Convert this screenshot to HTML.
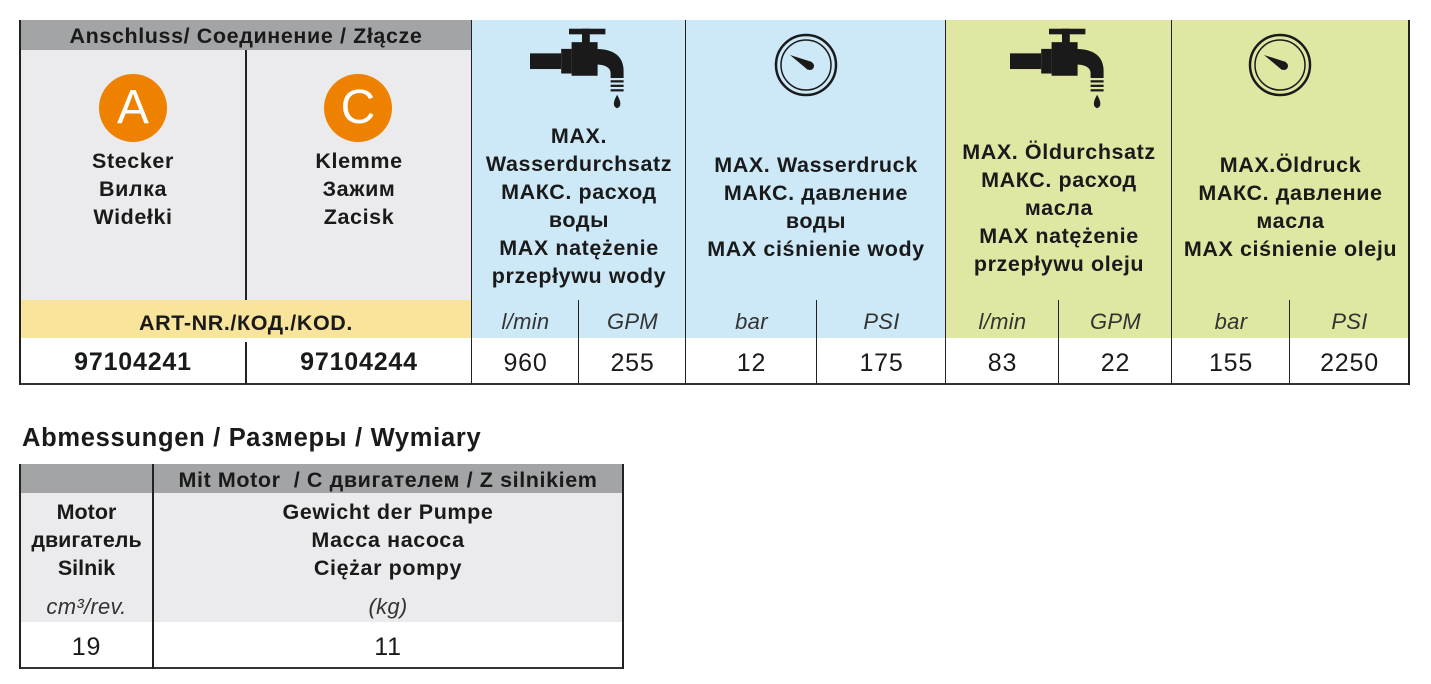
<!DOCTYPE html>
<html><head><meta charset="utf-8"><style>
body{margin:0;width:1431px;height:684px;background:#fff;position:relative;font-family:"Liberation Sans",sans-serif;color:#1a1a1a;overflow:hidden}
.a{position:absolute;box-sizing:border-box}
.t{position:absolute;text-align:center;font-weight:bold;font-size:21.5px;line-height:28px;letter-spacing:0.6px;white-space:nowrap}
.i{position:absolute;text-align:center;font-style:italic;font-size:22px;color:#333;letter-spacing:0.3px}
.n{position:absolute;text-align:center;font-size:25px;letter-spacing:0.8px}
.vl{position:absolute;width:2px;background:#222}
</style></head><body>
<div class="a" style="left:20px;top:20px;width:452px;height:30px;background:#a3a4a6"></div>
<div class="a" style="left:20px;top:50px;width:452px;height:250px;background:#ebebed"></div>
<div class="a" style="left:20px;top:300px;width:452px;height:38px;background:#f8e49b"></div>
<div class="a" style="left:472px;top:20px;width:474px;height:318px;background:#cde9f8"></div>
<div class="a" style="left:946px;top:20px;width:463px;height:318px;background:#e0e7a3"></div>
<div class="a" style="left:20px;top:383px;width:1389px;height:2px;background:#333"></div>
<div class="vl" style="left:19px;top:20px;height:365px"></div>
<div class="vl" style="left:1408px;top:20px;height:365px"></div>
<div class="vl" style="left:245px;top:50px;height:250px"></div>
<div class="vl" style="left:245px;top:342px;height:42px"></div>
<div class="vl" style="left:471px;top:20px;height:365px;width:1px"></div>
<div class="vl" style="left:685px;top:20px;height:365px;width:1px"></div>
<div class="vl" style="left:945px;top:20px;height:365px;width:1px"></div>
<div class="vl" style="left:1171px;top:20px;height:365px;width:1px"></div>
<div class="vl" style="left:578px;top:300px;height:84px;width:1px"></div>
<div class="vl" style="left:816px;top:300px;height:84px;width:1px"></div>
<div class="vl" style="left:1058px;top:300px;height:84px;width:1px"></div>
<div class="vl" style="left:1289px;top:300px;height:84px;width:1px"></div>

<div class="t" style="left:20px;top:22px;width:452px">Anschluss/ Соединение / Złącze</div>
<div class="a" style="left:99px;top:74px;width:68px;height:68px;border-radius:50%;background:#ee8200;color:#fff;font-size:48px;text-align:center;line-height:68px">A</div>
<div class="a" style="left:324px;top:74px;width:68px;height:68px;border-radius:50%;background:#ee8200;color:#fff;font-size:48px;text-align:center;line-height:68px">C</div>
<div class="t" style="left:20px;top:147px;width:226px">Stecker<br>Вилка<br>Widełki</div>
<div class="t" style="left:246px;top:147px;width:226px">Klemme<br>Зажим<br>Zacisk</div>
<div class="t" style="left:20px;top:309px;width:452px">ART-NR./КОД./KOD.</div>
<div class="n" style="left:20px;top:348px;width:226px;font-weight:bold">97104241</div>
<div class="n" style="left:246px;top:348px;width:226px;font-weight:bold">97104244</div>

<svg class="a" style="left:0;top:0" width="1431" height="120">
<defs><g id="tap"><rect x="0" y="28" width="24" height="14" fill="#1a1a1a"/><rect x="24" y="24" width="8" height="22" fill="#1a1a1a"/><rect x="32" y="18" width="20" height="30" fill="#1a1a1a"/><rect x="30" y="6" width="28" height="5" fill="#1a1a1a"/><rect x="40" y="6" width="6" height="14" fill="#1a1a1a"/><path d="M50 24 Q72 24 72 44 L72 50 L62 50 L62 46 Q62 38 50 38Z" fill="#1a1a1a"/><g fill="#1a1a1a"><rect x="62" y="52" width="10" height="2"/><rect x="62" y="56" width="10" height="2"/><rect x="62" y="60" width="10" height="2"/></g><path d="M67 65 Q62 75 67 77 Q72 75 67 65Z" fill="#1a1a1a"/></g>
<g id="g"><circle r="30" fill="none" stroke="#1a1a1a" stroke-width="2.5"/><circle r="25" fill="none" stroke="#1a1a1a" stroke-width="1.5"/><path d="M-16 -10 L6 -3 L2 5Z" fill="#1a1a1a"/><circle cx="4" cy="1" r="4" fill="#1a1a1a"/></g></defs>
<use href="#tap" transform="translate(530,22) scale(1.3,1.12)"/>
<use href="#tap" transform="translate(1010,22) scale(1.3,1.12)"/>
<use href="#g" x="806" y="65"/>
<use href="#g" x="1280" y="65"/>
</svg>
<div class="t" style="left:472px;top:122px;width:214px">MAX.<br>Wasserdurchsatz<br>МАКС. расход<br>воды<br>MAX natężenie<br>przepływu wody</div>
<div class="t" style="left:686px;top:151px;width:260px">MAX. Wasserdruck<br>МАКС. давление<br>воды<br>MAX ciśnienie wody</div>
<div class="t" style="left:946px;top:138px;width:226px">MAX. Öldurchsatz<br>МАКС. расход<br>масла<br>MAX natężenie<br>przepływu oleju</div>
<div class="t" style="left:1172px;top:151px;width:237px">MAX.Öldruck<br>МАКС. давление<br>масла<br>MAX ciśnienie oleju</div>
<div class="i" style="left:472px;top:309px;width:107px">l/min</div>
<div class="i" style="left:579px;top:309px;width:107px">GPM</div>
<div class="i" style="left:686px;top:309px;width:131px">bar</div>
<div class="i" style="left:817px;top:309px;width:129px">PSI</div>
<div class="i" style="left:946px;top:309px;width:113px">l/min</div>
<div class="i" style="left:1059px;top:309px;width:113px">GPM</div>
<div class="i" style="left:1172px;top:309px;width:118px">bar</div>
<div class="i" style="left:1290px;top:309px;width:119px">PSI</div>
<div class="n" style="left:472px;top:349px;width:107px">960</div>
<div class="n" style="left:579px;top:349px;width:107px">255</div>
<div class="n" style="left:686px;top:349px;width:131px">12</div>
<div class="n" style="left:817px;top:349px;width:129px">175</div>
<div class="n" style="left:946px;top:349px;width:113px">83</div>
<div class="n" style="left:1059px;top:349px;width:113px">22</div>
<div class="n" style="left:1172px;top:349px;width:118px">155</div>
<div class="n" style="left:1290px;top:349px;width:119px">2250</div>

<div class="a" style="left:22px;top:424px;font-weight:bold;font-size:25.5px;letter-spacing:0.7px;white-space:nowrap">Abmessungen / Размеры / Wymiary</div>
<div class="a" style="left:20px;top:464px;width:603px;height:29px;background:#a3a4a6"></div>
<div class="a" style="left:20px;top:493px;width:603px;height:129px;background:#ebebed"></div>
<div class="a" style="left:20px;top:667px;width:603px;height:2px;background:#333"></div>
<div class="vl" style="left:19px;top:464px;height:205px"></div>
<div class="vl" style="left:622px;top:464px;height:205px"></div>
<div class="vl" style="left:152px;top:464px;height:205px"></div>
<div class="t" style="left:153px;top:466px;width:470px">Mit Motor&nbsp; / С двигателем / Z silnikiem</div>
<div class="t" style="left:20px;top:498px;width:133px;letter-spacing:0">Motor<br>двигатель<br>Silnik</div>
<div class="t" style="left:153px;top:498px;width:470px">Gewicht der Pumpe<br>Масса насоса<br>Ciężar pompy</div>
<div class="i" style="left:20px;top:594px;width:133px">cm³/rev.</div>
<div class="i" style="left:153px;top:594px;width:470px">(kg)</div>
<div class="n" style="left:20px;top:633px;width:133px">19</div>
<div class="n" style="left:153px;top:633px;width:470px">11</div>
</body></html>
